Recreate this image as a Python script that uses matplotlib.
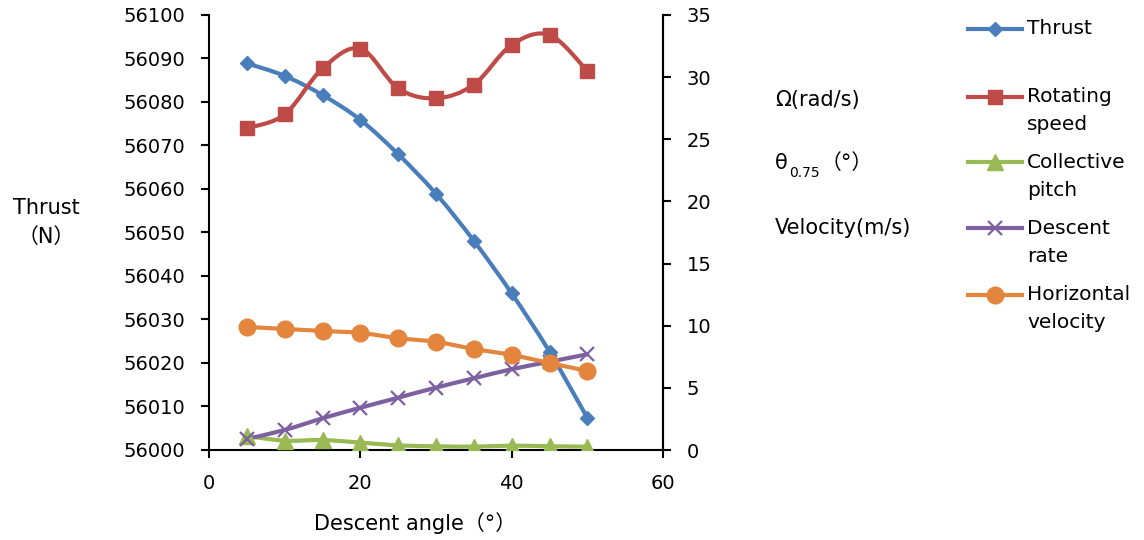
import matplotlib
matplotlib.use("Agg")
from matplotlib import pyplot as plt
from matplotlib.path import Path
from matplotlib.patches import PathPatch
from matplotlib.lines import Line2D

plt.rcParams["font.family"] = ["DejaVu Sans", "Noto Sans CJK SC"]

# descent angle (deg)
angles = [5, 10, 15, 20, 25, 30, 35, 40, 45, 50]
# left axis: thrust (N)
thrust = [56088.9, 56086.0, 56081.6, 56075.9, 56068.0,
          56058.9, 56048.1, 56036.0, 56022.6, 56007.4]
# right axis
rotating_speed = [25.9, 27.0, 30.7, 32.3, 29.1, 28.3, 29.4, 32.6, 33.4, 30.5]
collective_pitch = [1.13, 0.75, 0.8, 0.6, 0.37, 0.3, 0.27, 0.35, 0.3, 0.27]
descent_rate = [0.89, 1.61, 2.55, 3.4, 4.21, 5.02, 5.77, 6.5, 7.1, 7.7]
horizontal_velocity = [9.9, 9.74, 9.58, 9.42, 9.0, 8.7, 8.13, 7.65, 7.0, 6.36]

W, H = 1144, 540


def fx(px):
    return px / W


def fy(py):
    return 1 - py / H


def smooth_path(xs, ys):
    """Excel-like smoothed line: cubic Bezier through every point."""
    pts = list(zip(xs, ys))
    verts = [pts[0]]
    codes = [Path.MOVETO]
    n = len(pts)
    for i in range(n - 1):
        p0 = pts[i - 1] if i > 0 else pts[i]
        p1 = pts[i]
        p2 = pts[i + 1]
        p3 = pts[i + 2] if i + 2 < n else pts[i + 1]
        c1 = (p1[0] + (p2[0] - p0[0]) / 6, p1[1] + (p2[1] - p0[1]) / 6)
        c2 = (p2[0] - (p3[0] - p1[0]) / 6, p2[1] - (p3[1] - p1[1]) / 6)
        verts += [c1, c2, p2]
        codes += [Path.CURVE4] * 3
    return Path(verts, codes)


def draw_series(ax, ys, color, marker, ms, mew=1.0):
    ax.add_patch(PathPatch(smooth_path(angles, ys), fill=False,
                           edgecolor=color, lw=3.0, capstyle="round",
                           joinstyle="round"))
    ax.plot(angles, ys, ls="none", marker=marker, ms=ms, color=color,
            mfc=color, mec=color, mew=mew)


fig = plt.figure(figsize=(W / 100, H / 100), dpi=100)
ax = fig.add_axes([fx(209), fy(450), fx(663) - fx(209), fy(15) - fy(450)])
ax2 = ax.twinx()

series = [
    (["Thrust"], ax, thrust, "#4A7EBB", "D", 7.0, 1.0),
    (["Rotating", "speed"], ax2, rotating_speed, "#BE4B48", "s", 10.5, 1.0),
    (["Collective", "pitch"], ax2, collective_pitch, "#98B954", "^", 11, 1.0),
    (["Descent", "rate"], ax2, descent_rate, "#7D60A0", "x", 10, 1.6),
    (["Horizontal", "velocity"], ax2, horizontal_velocity, "#E3853D", "o", 12, 1.0),
]
for label, a, ys, col, mk, ms, mew in series:
    draw_series(a, ys, col, mk, ms, mew)

ax.set_xlim(0, 60)
ax.set_ylim(56000, 56100)
ax2.set_ylim(0, 35)
ax.set_xticks([0, 20, 40, 60])
ax.set_yticks(range(56000, 56101, 10))
ax2.set_yticks(range(0, 36, 5))

for a in (ax, ax2):
    a.spines["top"].set_visible(False)
    for s in a.spines.values():
        s.set_linewidth(1.5)
    a.tick_params(width=1.5, length=6, labelsize=14, direction="out",
                  pad=11)
ax2.spines["left"].set_visible(False)
ax2.spines["bottom"].set_visible(False)

fig.text(fx(46), fy(208), "Thrust", fontsize=15, ha="center", va="center")
fig.text(fx(46), fy(237), "（N）", fontsize=15, ha="center", va="center")
fig.text(fx(415), fy(523), "Descent angle（°）", fontsize=15,
         ha="center", va="center")

# unit labels between plot and legend
fig.text(fx(775), fy(100), "Ω(rad/s)", fontsize=15, va="center")
fig.text(fx(775), fy(163), "θ", fontsize=15, va="center")
fig.text(fx(789), fy(173), "0.75", fontsize=10, va="center")
fig.text(fx(821), fy(163), "（°）", fontsize=15, va="center")
fig.text(fx(775), fy(228), "Velocity(m/s)", fontsize=15, va="center")

# legend drawn by hand so that handles sit on the first text line
rows = [29, 97, 162, 228, 295]
for (label, a, ys, col, mk, ms, mew), ry in zip(series, rows):
    fig.add_artist(Line2D([fx(968), fx(1022)], [fy(ry), fy(ry)],
                          transform=fig.transFigure, color=col, lw=3.0))
    fig.add_artist(Line2D([fx(995)], [fy(ry)], transform=fig.transFigure,
                          ls="none", marker=mk, ms=ms, color=col, mew=mew))
    for k, line in enumerate(label):
        fig.text(fx(1027), fy(ry + 28 * k), line, fontsize=14.5,
                 va="center")

fig.savefig("out.png", dpi=100)
